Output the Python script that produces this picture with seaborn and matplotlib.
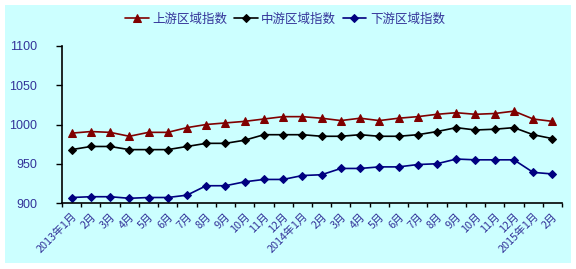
import numpy as np
import pandas as pd
import matplotlib
matplotlib.use("Agg")
import matplotlib.pyplot as plt
import matplotlib.patches as mpatches
import seaborn as sns

months = ["2013年1月", "2月", "3月", "4月", "5月", "6月", "7月", "8月", "9月", "10月", "11月", "12月",
          "2014年1月", "2月", "3月", "4月", "5月", "6月", "7月", "8月", "9月", "10月", "11月", "12月",
          "2015年1月", "2月"]
upstream = [989, 991, 990, 985, 990, 990, 996, 1000, 1002, 1004, 1007, 1010,
            1010, 1008, 1005, 1008, 1005, 1008, 1010, 1013, 1015, 1013, 1014, 1017,
            1007, 1004]
midstream = [968, 972, 972, 968, 968, 968, 972, 976, 976, 980, 987, 987,
             987, 985, 985, 987, 985, 985, 987, 991, 996, 993, 994, 996,
             987, 982]
downstream = [907, 908, 908, 906, 907, 907, 910, 922, 922, 927, 930, 930,
              935, 936, 944, 944, 946, 946, 949, 950, 956, 955, 955, 955,
              939, 937]
series_names = ["上游区域指数", "中游区域指数", "下游区域指数"]
yticks = [900, 950, 1000, 1050, 1100]

sns.set_style("ticks")
plt.rcParams['font.family'] = ['Noto Sans CJK SC', 'DejaVu Sans']

fig = plt.figure(figsize=(5.76, 2.69), dpi=100)
fig.patch.set_facecolor("white")
fig.patches.append(mpatches.Rectangle((5 / 576, 6 / 269), 566 / 576, 258 / 269,
                                      transform=fig.transFigure, facecolor="#CCFFFF",
                                      edgecolor="none", zorder=-10))

ax = fig.add_axes([62 / 576, 1 - 203 / 269, 500 / 576, 157 / 269])
ax.set_zorder(5)
ax.set_facecolor("none")

x = np.arange(len(months))
styles = [
    (upstream, "#800000", "^", 6),
    (midstream, "#000000", "D", 4.5),
    (downstream, "#000080", "D", 4.5),
]
for (vals, color, mk, ms), name in zip(styles, series_names):
    df = pd.DataFrame({"x": x, "y": vals})
    sns.lineplot(data=df, x="x", y="y", ax=ax, color=color, marker=mk, markersize=ms,
                 markeredgecolor=color, markerfacecolor=color, linewidth=1.2, label=name,
                 legend=False)

ax.set_xlim(-0.5, len(months) - 0.5)
ax.set_ylim(900, 1100)
ax.set_yticks(yticks)
ax.set_yticklabels([str(v) for v in yticks], color="#333399", fontsize=9,
                   family=['Liberation Sans', 'DejaVu Sans'])
ax.set_xticks(x)
ax.set_xticklabels(months, rotation=45, ha="right", va="top", rotation_mode="anchor",
                   fontsize=7.8, color="#333399")
ax.set_xticks(np.arange(-0.5, len(months), 1), minor=True)
ax.tick_params(axis="x", which="major", length=0, pad=6)
ax.tick_params(axis="x", which="minor", length=3, width=1, color="black", direction="out")
ax.tick_params(axis="y", length=4, width=1, color="black", direction="out", pad=14)
ax.set_xlabel("")
ax.set_ylabel("")
for s in ["top", "right"]:
    ax.spines[s].set_visible(False)
for s in ["left", "bottom"]:
    ax.spines[s].set_color("black")
    ax.spines[s].set_linewidth(1.2)

handles, labels = ax.get_legend_handles_labels()
fig.legend(handles, labels, loc="center", bbox_to_anchor=(285 / 576, 1 - 19 / 269), ncol=3,
           frameon=False, fontsize=9, handlelength=1.9, handletextpad=0.3,
           columnspacing=0.5, labelcolor="#333399")

fig.savefig("out.png", dpi=100, facecolor=fig.get_facecolor())
